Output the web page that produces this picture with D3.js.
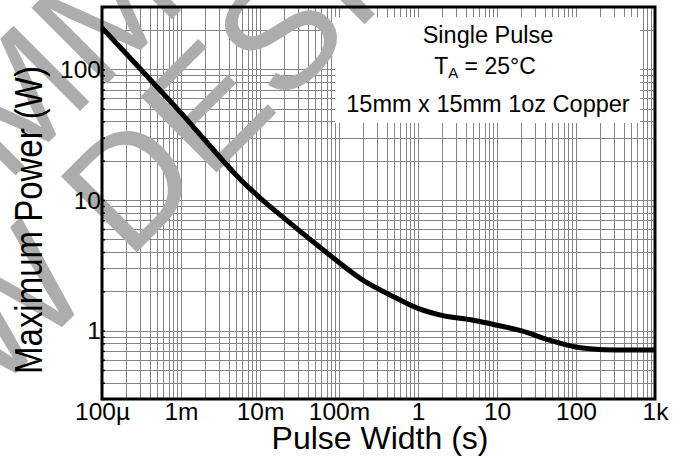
<!DOCTYPE html>
<html>
<head>
<meta charset="utf-8">
<script src="https://cdn.jsdelivr.net/npm/d3@7"></script>
<style>
  html, body { margin: 0; padding: 0; background: #fff; }
  svg { display: block; }
  text { font-family: "Liberation Sans", Arial, Helvetica, sans-serif; fill: #000; }
</style>
</head>
<body>
<svg id="chart" width="689" height="458"></svg>
<script>
// ---- data ----
const pulseWidth = [1e-4, 2e-4, 5e-4, 1e-3, 2e-3, 5e-3, 1e-2, 2e-2, 5e-2, 0.1, 0.2, 0.5, 1, 2, 5, 10, 20, 50, 100, 200, 500, 1000];
const maxPower   = [207, 133, 73, 46.4, 28.8, 15.5, 10.4, 7.3, 4.65, 3.33, 2.44, 1.81, 1.48, 1.31, 1.2, 1.1, 1.0, 0.834, 0.75, 0.718, 0.712, 0.712];
const xTickValues = [1e-4, 1e-3, 1e-2, 1e-1, 1, 10, 100, 1000];
const xTickLabels = ["100µ", "1m", "10m", "100m", "1", "10", "100", "1k"];
const yTickValues = [1, 10, 100];
const yTickLabels = ["1", "10", "100"];
const xDomain = [1e-4, 1e3];
const yDomain = [0.3, 300];
const noteLines = ["Single Pulse", "= 25°C", "15mm x 15mm 1oz Copper"];
const watermarkLines = ["NOT RECOMMENDED FOR", "NEW DESIGNS"];

// ---- layout ----
const W = 689, H = 458;
const plot = { left: 102, right: 655, top: 7, bottom: 399 };

const svg = d3.select("#chart");
svg.append("rect").attr("width", W).attr("height", H).attr("fill", "#fff");

const x = d3.scaleLog().domain(xDomain).range([plot.left, plot.right]);
const y = d3.scaleLog().domain(yDomain).range([plot.bottom, plot.top]);

// minor grid values (every integer multiple inside each decade)
function gridValues(domain) {
  const vals = [];
  const lo = Math.floor(Math.log10(domain[0])), hi = Math.ceil(Math.log10(domain[1]));
  for (let e = lo; e <= hi; e++) {
    for (let k = 1; k <= 9; k++) {
      const v = +(k * Math.pow(10, e)).toPrecision(6);
      if (v >= domain[0] * 0.9999 && v <= domain[1] * 1.0001) vals.push(v);
    }
  }
  return vals;
}
const xGrid = gridValues(xDomain);
const yGrid = gridValues(yDomain);

const grid = svg.append("g").attr("shape-rendering", "crispEdges")
  .attr("stroke", "#858585").attr("stroke-width", 1);
grid.selectAll("line.v").data(xGrid).join("line").attr("class", "v")
  .attr("x1", d => Math.round(x(d)) + 0.5).attr("x2", d => Math.round(x(d)) + 0.5)
  .attr("y1", plot.top).attr("y2", plot.bottom);
grid.selectAll("line.h").data(yGrid).join("line").attr("class", "h")
  .attr("y1", d => Math.round(y(d)) + 0.5).attr("y2", d => Math.round(y(d)) + 0.5)
  .attr("x1", plot.left).attr("x2", plot.right);

// annotation box (white, no border)
svg.append("rect").attr("x", 335).attr("y", 17).attr("width", 305).attr("height", 106).attr("fill", "#fff");

// watermark
const wm = svg.append("g").attr("transform", "translate(232,157) rotate(-45)")
  .style("pointer-events", "none");
wm.selectAll("text").data(watermarkLines).join("text")
  .attr("x", 0).attr("y", (d, i) => i === 0 ? -140 : 0)
  .attr("text-anchor", "middle")
  .style("font-size", "156px")
  .style("fill", "#adadad")
  .text(d => d);

// curve
const data = pulseWidth.map((t, i) => [t, maxPower[i]]);
const line = d3.line().x(d => x(d[0])).y(d => y(d[1])).curve(d3.curveCatmullRom.alpha(0.5));
svg.append("path").datum(data).attr("d", line)
  .attr("fill", "none").attr("stroke", "#000").attr("stroke-width", 5)
  .attr("stroke-linejoin", "round");

// left axis inner ticks
const yAxis = d3.axisRight(y).tickValues(yGrid).tickSize(3).tickFormat("");
const ya = svg.append("g").attr("transform", `translate(${plot.left},0)`).call(yAxis);
ya.select(".domain").remove();
ya.selectAll("line").attr("stroke", "#000").attr("stroke-width", 1.5);

// x axis labels
const xAxis = d3.axisBottom(x).tickValues(xTickValues).tickSize(0)
  .tickFormat((d, i) => xTickLabels[i]);
const xa = svg.append("g").attr("transform", `translate(0,${plot.bottom})`).call(xAxis);
xa.select(".domain").remove();
xa.selectAll("text").attr("y", 0).attr("dy", "21px")
  .style("font-size", "24.5px").style("font-family", "Liberation Sans, Arial, sans-serif")
  .attr("fill", "#000");

// y axis labels
const yAxisL = d3.axisLeft(y).tickValues(yTickValues).tickSize(0)
  .tickFormat((d, i) => yTickLabels[i]);
const yl = svg.append("g").attr("transform", `translate(${plot.left - 1},0)`).call(yAxisL);
yl.select(".domain").remove();
yl.selectAll("text").attr("x", 0).attr("dy", "8px")
  .style("font-size", "24.5px").style("font-family", "Liberation Sans, Arial, sans-serif")
  .attr("fill", "#000");

// frame
svg.append("rect").attr("x", plot.left).attr("y", plot.top)
  .attr("width", plot.right - plot.left).attr("height", plot.bottom - plot.top)
  .attr("fill", "none").attr("stroke", "#000").attr("stroke-width", 3);

// axis titles
svg.append("text").attr("x", 380).attr("y", 449).attr("text-anchor", "middle")
  .style("font-size", "32px").text("Pulse Width (s)");
svg.append("text").attr("transform", "translate(42,220) rotate(-90) scale(1,1.15)").attr("text-anchor", "middle")
  .style("font-size", "33px").text("Maximum Power (W)");

// annotation text
svg.append("text").attr("x", 488).attr("y", 43).attr("text-anchor", "middle")
  .style("font-size", "23.5px").text(noteLines[0]);
const ta = svg.append("text").attr("x", 485).attr("y", 74).attr("text-anchor", "middle")
  .style("font-size", "23px");
ta.append("tspan").text("T");
ta.append("tspan").attr("dy", 4).style("font-size", "15px").text("A");
ta.append("tspan").attr("dy", -4).text(" " + noteLines[1]);
svg.append("text").attr("x", 488).attr("y", 112).attr("text-anchor", "middle")
  .style("font-size", "23.5px").text(noteLines[2]);
</script>
</body>
</html>
